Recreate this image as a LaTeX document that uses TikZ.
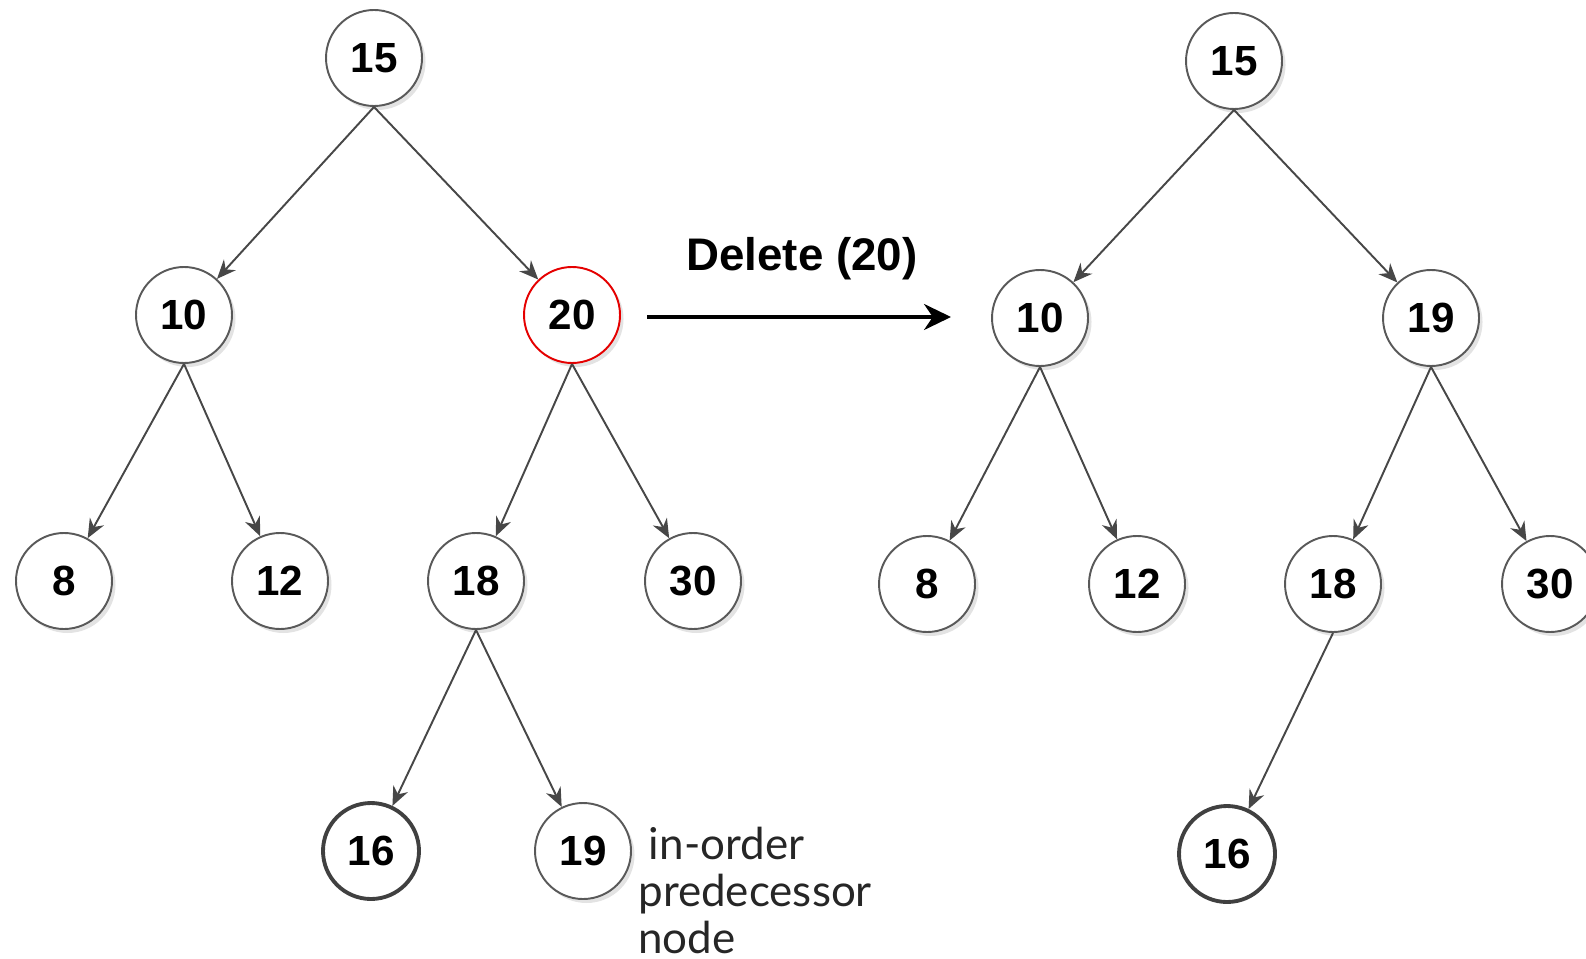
\documentclass[tikz,border=0pt]{standalone}
\usepackage{fontspec}
\setmainfont{Liberation Sans}
\newfontfamily\notefont{Lato}
\usetikzlibrary{arrows.meta,shadows}

\begin{document}
\begin{tikzpicture}[
  key/.style={circle,draw=black!65,line width=0.55pt,fill=white,minimum size=0.96cm,inner sep=0pt,
    font=\bfseries\fontsize{12}{14}\selectfont,
    drop shadow={shadow xshift=0.035cm,shadow yshift=-0.04cm,opacity=0.22}},
  moved/.style={circle,draw=black!75,line width=1.1pt,fill=white,minimum size=0.96cm,inner sep=0pt,
    font=\bfseries\fontsize{12}{14}\selectfont},
  gone/.style={key,draw=red!90!black},
  link/.style={draw=black!72,line width=0.55pt,-{Stealth[length=0.19cm,width=0.16cm]}},
  step arrow/.style={draw=black,line width=1pt,-{Stealth[length=0.27cm,width=0.26cm]}}
]
\useasboundingbox (0,0) rectangle (15.86,9.58);
\clip (0,0) rectangle (15.86,9.58);

% tree before the delete
\node[key] (a15) at (3.74,9.00) {15};
\node[key] (a10) at (1.84,6.43) {10};
\node[gone] (a20) at (5.72,6.43) {20};
\node[key] (a8) at (0.64,3.77) {8};
\node[key] (a12) at (2.80,3.77) {12};
\node[key] (a18) at (4.76,3.77) {18};
\node[key] (a30) at (6.93,3.77) {30};
\node[moved] (a16) at (3.71,1.07) {16};
\node[key] (a19) at (5.83,1.07) {19};

\draw[link] (a15.south) -- (a10);
\draw[link] (a15.south) -- (a20);
\draw[link] (a10.south) -- (a8);
\draw[link] (a10.south) -- (a12);
\draw[link] (a20.south) -- (a18);
\draw[link] (a20.south) -- (a30);
\draw[link] (a18.south) -- (a16);
\draw[link] (a18.south) -- (a19);

% base is the last line here
\node[anchor=base west,align=left,text=black!85,font=\notefont\fontsize{12.5}{13.3}\selectfont]
  (note) at (6.26,0.05) {\hspace*{3pt}in-order\\predecessor\\node};

% the delete step
\coordinate (go) at (6.47,6.41);
\coordinate (stop) at (9.51,6.41);
\draw[step arrow] (go) -- (stop);
\node[font=\bfseries\fontsize{13}{15}\selectfont] (op) at (8.02,6.99) {Delete (20)};

% tree after the delete
\node[key] (b15) at (12.34,8.97) {15};
\node[key] (b10) at (10.40,6.40) {10};
\node[key] (b19) at (14.31,6.40) {19};
\node[key] (b8) at (9.27,3.74) {8};
\node[key] (b12) at (11.37,3.74) {12};
\node[key] (b18) at (13.33,3.74) {18};
\node[key] (b30) at (15.50,3.74) {30};
\node[moved] (b16) at (12.27,1.04) {16};

\draw[link] (b15.south) -- (b10);
\draw[link] (b15.south) -- (b19);
\draw[link] (b10.south) -- (b8);
\draw[link] (b10.south) -- (b12);
\draw[link] (b19.south) -- (b18);
\draw[link] (b19.south) -- (b30);
\draw[link] (b18.south) -- (b16);
\end{tikzpicture}
\end{document}
